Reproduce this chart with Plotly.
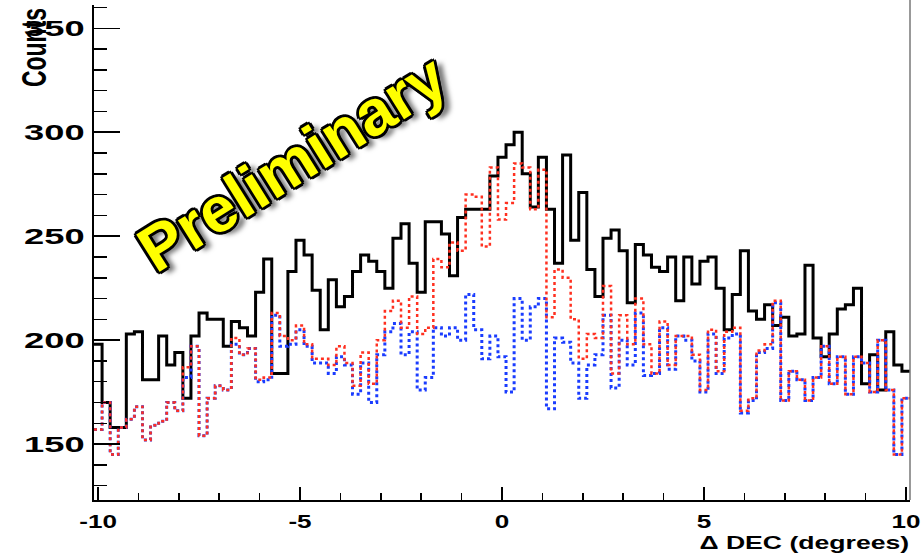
import plotly.graph_objects as go

# 101 bins of width 0.2 centred on -10.0 ... 10.0
bin_centers = [round(-10 + 0.2 * i, 1) for i in range(101)]

black_counts = [
    198, 170, 158, 158, 203, 204, 181, 181, 202, 188,
    194, 172, 202, 213, 210, 210, 197, 209, 206, 202,
    223, 239, 184, 184, 233, 248, 241, 224, 205, 229,
    216, 221, 233, 241, 238, 233, 225, 249, 256, 237,
    223, 257, 257, 251, 231, 259, 263, 263, 263, 279,
    288, 294, 300, 280, 264, 288, 263, 237, 289, 248,
    271, 234, 221, 249, 253, 243, 218, 246, 241, 235,
    233, 240, 219, 240, 227, 238, 240, 225, 205, 222,
    243, 214, 210, 217, 207, 211, 202, 203, 236, 201,
    192, 203, 215, 217, 225, 179, 193, 176, 204, 188,
    185,
]

red_counts = [
    157, 170, 145, 158, 162, 168, 152, 159, 161, 170,
    166, 187, 197, 154, 172, 178, 176, 201, 193, 196,
    181, 182, 213, 202, 200, 207, 198, 191, 191, 188,
    197, 189, 178, 194, 179, 200, 214, 219, 206, 221,
    203, 206, 239, 235, 247, 243, 270, 269, 245, 283,
    258, 266, 285, 283, 263, 282, 211, 234, 230, 210,
    191, 203, 201, 226, 184, 212, 198, 220, 198, 184,
    209, 188, 202, 202, 193, 176, 205, 185, 204, 206,
    166, 172, 195, 198, 219, 171, 185, 181, 171, 182,
    197, 179, 192, 174, 192, 189, 175, 200, 176, 145,
    172,
]

blue_counts = [
    157, 170, 145, 158, 162, 168, 152, 159, 161, 170,
    166, 182, 197, 154, 172, 178, 176, 198, 193, 196,
    180, 181, 212, 197, 198, 205, 197, 189, 189, 184,
    192, 188, 174, 189, 170, 193, 204, 208, 193, 204,
    176, 182, 206, 202, 206, 200, 222, 205, 191, 202,
    192, 175, 220, 200, 216, 220, 167, 201, 199, 189,
    172, 188, 193, 212, 177, 200, 188, 213, 183, 184,
    206, 186, 202, 200, 190, 175, 203, 184, 201, 203,
    165, 171, 194, 196, 218, 171, 185, 181, 171, 182,
    197, 179, 192, 174, 192, 189, 175, 200, 176, 145,
    172,
]

x_tick_vals = [-10, -5, 0, 5, 10]
x_tick_text = ["-10", "-5", "0", "5", "10"]
y_tick_vals = [150, 200, 250, 300, 350]
y_tick_text = ["150", "200", "250", "300", "350"]

bin_width = 0.2
edges = [c - bin_width / 2 for c in bin_centers] + [bin_centers[-1] + bin_width / 2]


def step_trace(counts, color, width, dash):
    ys = list(counts) + [counts[-1]]
    return go.Scatter(x=edges, y=ys, mode="lines",
                      line=dict(color=color, width=width, dash=dash, shape="hv"),
                      hoverinfo="skip", showlegend=False)


fig = go.Figure()
fig.add_trace(step_trace(black_counts, "#000000", 3, "solid"))
fig.add_trace(step_trace(blue_counts, "#1a3cff", 3, "dot"))
fig.add_trace(step_trace(red_counts, "#ff3020", 2.5, "dot"))

FONT = "Liberation Sans"

fig.update_layout(
    width=923, height=553,
    margin=dict(l=94, r=13, t=5, b=53),
    paper_bgcolor="#ffffff", plot_bgcolor="#ffffff",
    hovermode=False, dragmode=False,
    xaxis=dict(
        range=[-10.1, 10.1], showgrid=False, zeroline=False,
        showline=True, linecolor="#000000", linewidth=2, mirror=False,
        ticks="inside", ticklen=13, tickwidth=1.5, tickcolor="#000000",
        tickvals=x_tick_vals, ticktext=x_tick_text,
        tickfont=dict(family=FONT, size=18, color="#000000", weight="bold"),
        ticklabelstandoff=4,
        minor=dict(ticks="inside", ticklen=7, tickwidth=1.5, tickcolor="#000000", dtick=1, tick0=0),
    ),
    yaxis=dict(
        range=[123.1, 361.2], showgrid=False, zeroline=False,
        showline=True, linecolor="#000000", linewidth=2, mirror=False,
        ticks="inside", ticklen=26, tickwidth=1.5, tickcolor="#000000",
        tickvals=y_tick_vals, ticktext=y_tick_text,
        tickfont=dict(family=FONT, size=22, color="#000000", weight="bold"),
        ticklabelstandoff=3,
        minor=dict(ticks="inside", ticklen=13, tickwidth=1.5, tickcolor="#000000", dtick=10, tick0=0),
    ),
)

# right frame border
fig.add_shape(type="line", xref="paper", yref="paper", x0=1, x1=1, y0=0, y1=1.01,
              line=dict(color="#777777", width=1.5))

fig.add_annotation(text="Counts", xref="paper", yref="paper", x=-0.0735, y=0.913,
                   showarrow=False, textangle=-90, xanchor="center", yanchor="middle",
                   font=dict(family=FONT, size=23, color="#000000", weight="bold"))

fig.add_annotation(text="\u0394 DEC (degrees)", xref="paper", yref="paper", x=1.003, y=-0.085,
                   showarrow=False, xanchor="right", yanchor="middle",
                   font=dict(family=FONT, size=19, color="#000000", weight="bold"))

outline = ("-2px -2px 0 #000, 2px -2px 0 #000, -2px 2px 0 #000, 2px 2px 0 #000, "
           "0 -3px 0 #000, 0 3px 0 #000, -3px 0 0 #000, 3px 0 0 #000, 6px 6px 5px #777")
fig.add_annotation(text="Preliminary", xref="paper", yref="paper", x=0.243, y=0.68,
                   showarrow=False, textangle=-32, xanchor="center", yanchor="middle",
                   font=dict(family=FONT, size=64, color="#ffff00", weight="bold",
                             shadow=outline))

# The reference canvas is stretched horizontally; widen the axis texts the same way.
post_js = """
document.body.style.margin = '0';
function stretchEl(el, s, mode) {
  var r = el.getBoundingClientRect();
  var ax = mode === 'right' ? r.right : (mode === 'left' ? r.left : (r.left + r.right) / 2);
  var p = el.parentNode;
  var m = p.getScreenCTM().inverse();
  var pt = el.ownerSVGElement.createSVGPoint();
  pt.x = ax; pt.y = r.top;
  var lp = pt.matrixTransform(m);
  var old = el.getAttribute('transform') || '';
  el.setAttribute('transform', 'translate(' + lp.x + ',0) scale(' + s + ',1) translate(' + (-lp.x) + ',0) ' + old);
}
var gd = document.getElementById('{plot_id}');
gd.querySelectorAll('.ytick text').forEach(function (el) { stretchEl(el, 1.65, 'right'); });
gd.querySelectorAll('.xtick text').forEach(function (el) { stretchEl(el, 1.45, 'center'); });
var anns = gd.querySelectorAll('.infolayer .annotation');
if (anns.length >= 2) {
  stretchEl(anns[0], 1.5, 'center');
  stretchEl(anns[1], 1.4, 'right');
}
"""

fig.write_html("out.html", post_script=post_js,
               config={"displayModeBar": False, "staticPlot": True})
